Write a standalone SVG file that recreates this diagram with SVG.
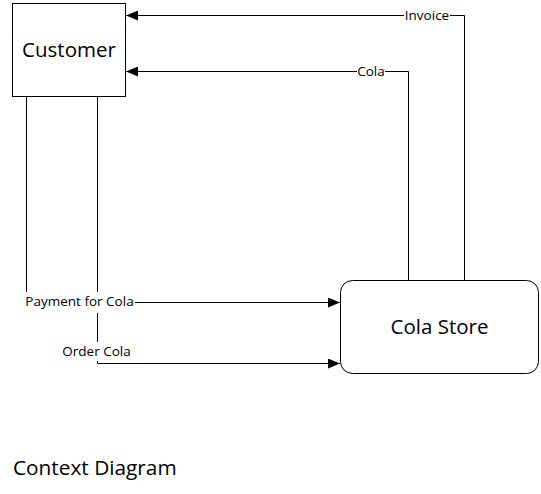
<svg xmlns="http://www.w3.org/2000/svg" width="541" height="494" viewBox="0 0 541 494">
<style>
.node{fill:#fff;stroke:#000;stroke-width:1}
.edge{fill:none;stroke:#000;stroke-width:1}
.t{font-family:"Open Sans","Liberation Sans",sans-serif;fill:#000}
.lbl{font-size:13.5px}
.bg{fill:#fff}
</style>
<defs>
<marker id="ah" markerWidth="12" markerHeight="10" refX="12" refY="5" orient="auto" markerUnits="userSpaceOnUse">
<path d="M0,0 L12,5 L0,10 Z" fill="#000"/>
</marker>
</defs>
<rect width="541" height="494" fill="#fff"/>
<g id="connectors">
<polyline class="edge" points="464.5,280 464.5,15.5 126,15.5" marker-end="url(#ah)"/>
<polyline class="edge" points="408.5,280 408.5,71.5 126,71.5" marker-end="url(#ah)"/>
<polyline class="edge" points="26.5,96 26.5,302.5 340,302.5" marker-end="url(#ah)"/>
<polyline class="edge" points="97.5,96 97.5,363.5 340,363.5" marker-end="url(#ah)"/>
<rect class="bg" x="404" y="8" width="46" height="15"/>
<text class="t lbl" x="427" y="19.5" text-anchor="middle">Invoice</text>
<rect class="bg" x="357" y="64" width="28" height="15"/>
<text class="t lbl" x="371" y="75.5" text-anchor="middle">Cola</text>
<rect class="bg" x="23" y="292" width="112" height="21"/>
<text class="t lbl" x="79.5" y="305.5" text-anchor="middle">Payment for Cola</text>
<rect class="bg" x="61" y="342" width="71" height="19"/>
<text class="t lbl" x="96.5" y="355.5" text-anchor="middle">Order Cola</text>
</g>
<g id="customer">
<rect class="node" x="12.5" y="3.5" width="113" height="93"/>
<text class="t" x="69" y="57" font-size="20.5" text-anchor="middle">Customer</text>
</g>
<g id="cola-store">
<rect class="node" x="340.5" y="280.5" width="198" height="93" rx="12" ry="12"/>
<text class="t" x="439.5" y="334" font-size="20.5" text-anchor="middle">Cola Store</text>
</g>
<text class="t" x="13" y="475" font-size="20.8">Context Diagram</text>
</svg>
